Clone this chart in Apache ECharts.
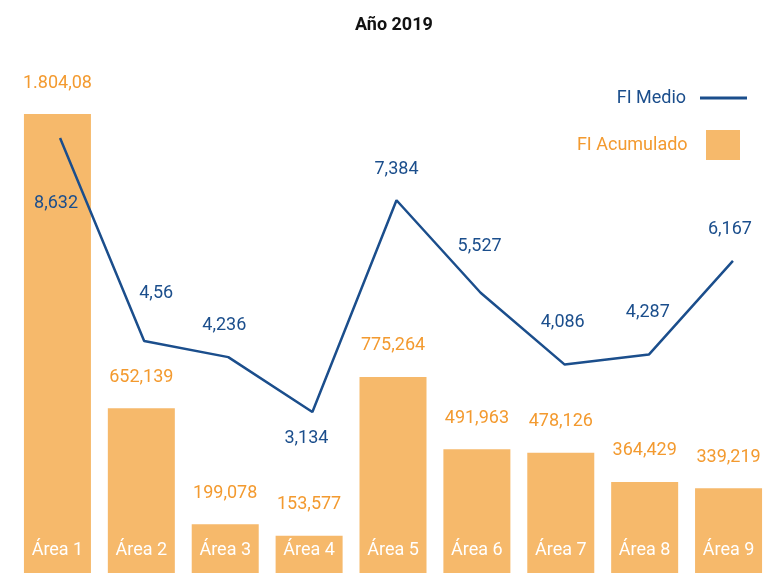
<!DOCTYPE html>
<html>
<head>
<meta charset="utf-8">
<script src="https://cdn.jsdelivr.net/npm/echarts@6/dist/echarts.min.js"></script>
<style>
  html, body { margin: 0; padding: 0; background: #fff; }
  #main { width: 764px; height: 573px; }
</style>
</head>
<body>
<div id="main"></div>
<script>
// data
var categories = ['Área 1', 'Área 2', 'Área 3', 'Área 4', 'Área 5', 'Área 6', 'Área 7', 'Área 8', 'Área 9'];
var fiAcumulado = [1804.08, 652.139, 199.078, 153.577, 775.264, 491.963, 478.126, 364.429, 339.219];
var fiMedio = [8.632, 4.56, 4.236, 3.134, 7.384, 5.527, 4.086, 4.287, 6.167];
// where each line label sits relative to its point
var lineLabelOffsets = [[-4, 65], [12, -47], [-4, -32], [-6, 26], [0, -31], [-1, -46], [-2, -42], [-1, -42], [-3, -31]];

var orange = '#F6B96B';
var orangeText = '#F39A2F';
var blue = '#1B4E8C';
var font = 'Roboto';

// 1804.08 -> 1.804,08
function fmt(v) {
  var parts = String(v).split('.');
  var intPart = parts[0].replace(/\B(?=(\d{3})+(?!\d))/g, '.');
  return parts.length > 1 ? intPart + ',' + parts[1] : intPart;
}

var chart = echarts.init(document.getElementById('main'), null, { renderer: 'canvas' });

var lineData = fiMedio.map(function (v, i) {
  return {
    value: v,
    label: { offset: lineLabelOffsets[i] }
  };
});

var option = {
  animation: false,
  title: {
    text: 'Año 2019',
    left: 350,
    top: 11,
    textStyle: { fontFamily: font, fontSize: 18, fontWeight: 'bold', color: '#111' }
  },
  legend: [{
    data: [{ name: 'FI Medio', icon: 'rect' }],
    right: 17,
    top: 89,
    padding: 0,
    align: 'right',
    itemWidth: 47,
    itemHeight: 3,
    formatter: '{name}  ',
    textStyle: { fontFamily: font, fontSize: 18, color: blue }
  }, {
    data: [{ name: 'FI Acumulado', icon: 'rect' }],
    right: 24,
    top: 130,
    padding: 0,
    align: 'right',
    itemWidth: 34,
    itemHeight: 30,
    formatter: '{name}   ',
    textStyle: { fontFamily: font, fontSize: 18, color: orangeText }
  }],
  grid: [{
    left: 15.5,
    right: -6.5,
    top: 114,
    bottom: -2,
    containLabel: false,
    outerBoundsMode: 'none'
  }, {
    // the line sits a few pixels right of the bar centres in the original
    left: 18,
    right: -11,
    top: 114,
    bottom: -2,
    containLabel: false,
    outerBoundsMode: 'none'
  }],
  xAxis: [{
    type: 'category',
    data: categories,
    gridIndex: 0,
    z: 10,
    axisLine: { show: false },
    axisTick: { show: false },
    splitLine: { show: false },
    axisLabel: {
      inside: true,
      margin: 16,
      color: '#fff',
      fontFamily: font,
      fontSize: 18
    }
  }, {
    type: 'category',
    data: categories,
    gridIndex: 1,
    show: false
  }],
  yAxis: [{
    type: 'value',
    gridIndex: 0,
    min: 0,
    max: 1804.08,
    show: false
  }, {
    type: 'value',
    gridIndex: 1,
    min: -0.136,
    max: 9.114,
    show: false
  }],
  series: [{
    name: 'FI Acumulado',
    type: 'bar',
    data: fiAcumulado,
    barWidth: 67,
    itemStyle: { color: orange },
    label: {
      show: true,
      position: 'top',
      distance: 22,
      color: orangeText,
      fontFamily: font,
      fontSize: 18,
      formatter: function (p) { return fmt(p.value); }
    }
  }, {
    name: 'FI Medio',
    type: 'line',
    xAxisIndex: 1,
    yAxisIndex: 1,
    data: lineData,
    symbol: 'circle',
    symbolSize: 0.1,
    showSymbol: true,
    z: 5,
    lineStyle: { color: blue, width: 2.5 },
    itemStyle: { color: blue },
    label: {
      show: true,
      position: 'inside',
      color: blue,
      fontFamily: font,
      fontSize: 18,
      formatter: function (p) { return fmt(p.value); }
    }
  }]
};

chart.setOption(option);
</script>
</body>
</html>
